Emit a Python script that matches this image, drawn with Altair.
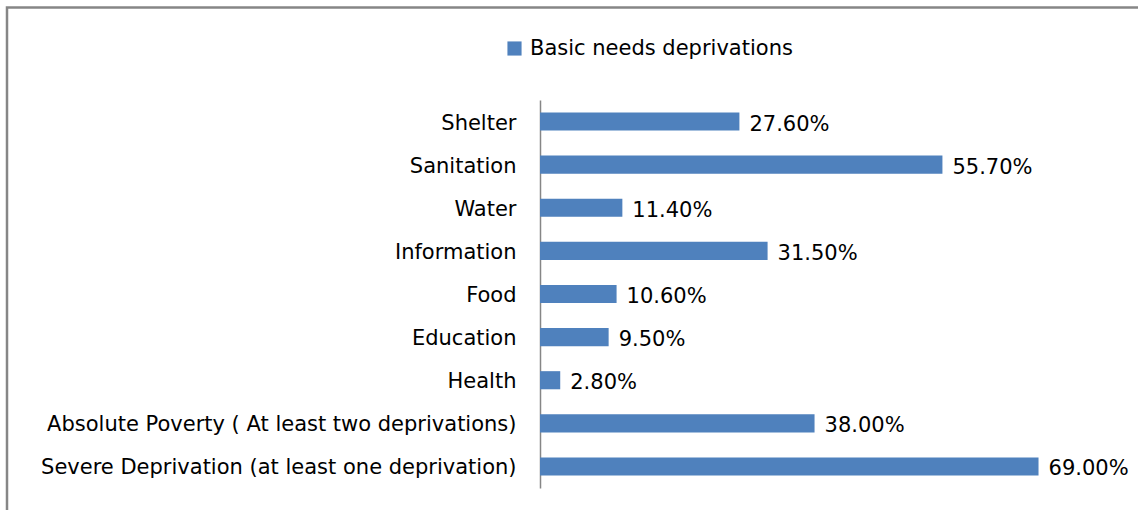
import altair as alt
import pandas as pd

categories = [
    "Shelter",
    "Sanitation",
    "Water",
    "Information",
    "Food",
    "Education",
    "Health",
    "Absolute Poverty ( At least two deprivations)",
    "Severe Deprivation (at least one deprivation)",
]
values = [27.6, 55.7, 11.4, 31.5, 10.6, 9.5, 2.8, 38.0, 69.0]
series_name = "Basic needs deprivations"

df = pd.DataFrame({
    "category": categories,
    "value": [v / 100 for v in values],
    "series": [series_name] * len(categories),
})

FONT = "DejaVu Sans"
FS = 21
BLUE = "#4F81BD"
GRAY = "#868686"

y_enc = alt.Y(
    "category:N",
    sort=categories,
    scale=alt.Scale(paddingInner=0.58, paddingOuter=0.29),
    axis=alt.Axis(
        title=None,
        ticks=False,
        domainColor=GRAY,
        domainWidth=1.5,
        labelFontSize=FS,
        labelFont=FONT,
        labelColor="#000000",
        labelPadding=24,
        labelOffset=2,
        labelLimit=600,
    ),
)
x_scale = alt.Scale(domain=[0, 0.8])

bars = alt.Chart(df).mark_bar(color=BLUE).encode(
    x=alt.X("value:Q", scale=x_scale, axis=None),
    y=y_enc,
    color=alt.Color(
        "series:N",
        scale=alt.Scale(range=[BLUE]),
        legend=alt.Legend(
            title=None,
            orient="none",
            legendX=-36,
            legendY=-62,
            symbolType="square",
            symbolSize=200,
            symbolStrokeWidth=0,
            labelFontSize=FS,
            labelFont=FONT,
            labelColor="#000000",
            labelOffset=5,
            labelLimit=600,
        ),
    ),
)

labels = alt.Chart(df).mark_text(
    align="left", baseline="middle", dx=10, dy=3, fontSize=FS, font=FONT, color="#000000"
).encode(
    x=alt.X("value:Q", scale=x_scale),
    y=alt.Y("category:N", sort=categories),
    text=alt.Text("value:Q", format=".2%"),
)

border = alt.Chart(pd.DataFrame({"b": [0]})).mark_rect(
    fill=None, stroke=GRAY, strokeWidth=2.5
).encode(
    x=alt.value(-533), x2=alt.value(700), y=alt.value(-92.5), y2=alt.value(500)
)

chart = alt.layer(border, bars, labels).properties(
    width=578,
    height=388,
    autosize=alt.AutoSizeParams(type="none"),
    padding={"left": 540, "top": 100, "right": 20, "bottom": 22},
).configure(
    background="#FFFFFF",
    view=alt.ViewConfig(stroke="transparent", strokeWidth=0),
)

chart.save("out.html", embed_options={"renderer": "svg", "actions": False})
